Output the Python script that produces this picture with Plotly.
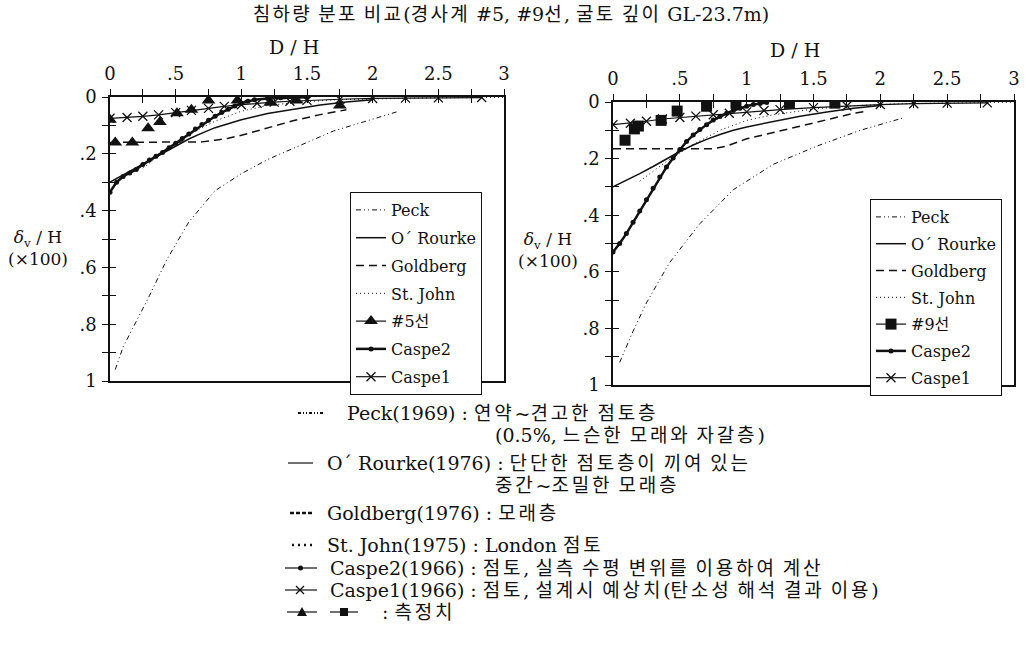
import re
import plotly.graph_objects as go

W, H = 1028, 656
SERIF = "DejaVu Serif, Noto Sans CJK KR, serif"
INK = "#111111"

# ---------------- tick labels ----------------
x_tick_vals = [0, 0.5, 1.0, 1.5, 2.0, 2.5, 3.0]
x_tick_text = ["0", ".5", "1", "1.5", "2", "2.5", "3"]
x_minor_step = 0.25
y_tick_vals = [0, 0.2, 0.4, 0.6, 0.8, 1.0]
y_tick_text = ["0", ".2", ".4", ".6", ".8", "1"]
y_minor_step = 0.1

# ---------------- left panel (#5선) ----------------
peck_L_x = [0.04, 0.1, 0.2, 0.3, 0.43, 0.6, 0.8, 1.0, 1.2, 1.45, 1.7, 1.95, 2.2]
peck_L_y = [0.96, 0.88, 0.79, 0.70, 0.575, 0.44, 0.33, 0.27, 0.22, 0.17, 0.12, 0.085, 0.05]
orourke_L_x = [0, 0.1, 0.2, 0.3, 0.4, 0.5, 0.6, 0.7, 0.8, 0.9, 1.0, 1.2, 1.4, 1.6, 1.8, 2.0]
orourke_L_y = [0.30, 0.275, 0.25, 0.225, 0.198, 0.172, 0.148, 0.127, 0.108, 0.094, 0.08, 0.058, 0.042, 0.028, 0.018, 0.01]
goldberg_L_x = [0, 0.2, 0.4, 0.6, 0.7, 0.8, 0.9, 1.0, 1.2, 1.4, 1.6, 1.8]
goldberg_L_y = [0.16, 0.16, 0.16, 0.16, 0.158, 0.152, 0.145, 0.135, 0.108, 0.083, 0.062, 0.045]
stjohn_L_x = [0.25, 0.35, 0.45, 0.55, 0.65, 0.8, 1.0, 1.2, 1.4, 1.7, 2.0, 2.4, 2.7, 3.0]
stjohn_L_y = [0.25, 0.215, 0.18, 0.15, 0.12, 0.085, 0.05, 0.03, 0.02, 0.01, 0.006, 0.003, 0.002, 0.001]
meas5_x = [0.0, 0.04, 0.17, 0.29, 0.38, 0.51, 0.62, 0.75, 0.97, 1.22, 1.42, 1.75]
meas5_y = [0.08, 0.16, 0.16, 0.11, 0.088, 0.057, 0.045, 0.012, 0.012, 0.02, 0.012, 0.03]
caspe2_L_x = [0, 0.05, 0.1, 0.15, 0.2, 0.25, 0.3, 0.35, 0.4, 0.45, 0.5, 0.55, 0.6, 0.65,
              0.7, 0.75, 0.8, 0.85, 0.9, 0.95, 1.0, 1.05, 1.1, 1.2, 1.3, 1.4, 1.5]
caspe2_L_y = [0.335, 0.30, 0.28, 0.268, 0.255, 0.238, 0.222, 0.209, 0.195, 0.179, 0.163, 0.146, 0.13, 0.113,
              0.097, 0.082, 0.068, 0.055, 0.043, 0.032, 0.022, 0.015, 0.01, 0.005, 0.003, 0.002, 0.001]
caspe1_L_x = [0, 0.13, 0.25, 0.37, 0.5, 0.62, 0.75, 0.87, 1.0, 1.12, 1.25, 1.37, 1.5, 1.75, 2.0, 2.25, 2.5, 2.83]
caspe1_L_y = [0.075, 0.072, 0.068, 0.063, 0.055, 0.047, 0.04, 0.033, 0.027, 0.022, 0.018, 0.015, 0.012, 0.008,
              0.005, 0.004, 0.003, 0.002]

# ---------------- right panel (#9선) ----------------
peck_R_x = [0.05, 0.15, 0.25, 0.42, 0.55, 0.65, 0.9, 1.2, 1.53, 1.85, 2.18]
peck_R_y = [0.92, 0.81, 0.71, 0.57, 0.49, 0.43, 0.31, 0.22, 0.155, 0.10, 0.055]
orourke_R_x = [0, 0.1, 0.2, 0.3, 0.4, 0.5, 0.6, 0.7, 0.8, 0.9, 1.0, 1.2, 1.4, 1.6, 1.8, 2.0]
orourke_R_y = [0.30, 0.277, 0.253, 0.228, 0.20, 0.175, 0.152, 0.132, 0.115, 0.10, 0.088, 0.068, 0.05, 0.035, 0.022, 0.012]
goldberg_R_x = [0, 0.2, 0.4, 0.6, 0.75, 0.85, 1.0, 1.2, 1.4, 1.6, 1.8, 1.9]
goldberg_R_y = [0.165, 0.165, 0.165, 0.165, 0.165, 0.156, 0.13, 0.108, 0.085, 0.062, 0.04, 0.032]
stjohn_R_x = [0.2, 0.3, 0.4, 0.5, 0.6, 0.8, 1.0, 1.2, 1.5, 1.8, 2.1, 2.4, 2.7, 3.0]
stjohn_R_y = [0.28, 0.245, 0.21, 0.18, 0.15, 0.10, 0.065, 0.045, 0.025, 0.013, 0.007, 0.004, 0.002, 0.001]
meas9_x = [0.09, 0.16, 0.19, 0.36, 0.48, 0.70, 0.92, 1.32, 1.66]
meas9_y = [0.135, 0.095, 0.085, 0.065, 0.032, 0.015, 0.005, 0.005, 0.004]
caspe2_R_x = [0, 0.05, 0.1, 0.15, 0.2, 0.25, 0.3, 0.35, 0.4, 0.45, 0.5, 0.55, 0.6, 0.65,
              0.7, 0.75, 0.8, 0.85, 0.9, 0.95, 1.0, 1.05, 1.1, 1.15]
caspe2_R_y = [0.53, 0.50, 0.465, 0.425, 0.385, 0.345, 0.305, 0.265, 0.23, 0.198, 0.168, 0.14, 0.117, 0.097,
              0.08, 0.064, 0.051, 0.04, 0.03, 0.022, 0.015, 0.009, 0.005, 0.002]
caspe1_R_x = [0, 0.13, 0.25, 0.37, 0.5, 0.62, 0.75, 0.87, 1.0, 1.13, 1.25, 1.5, 1.75, 2.0, 2.25, 2.5, 2.8]
caspe1_R_y = [0.08, 0.075, 0.068, 0.06, 0.055, 0.05, 0.045, 0.04, 0.035, 0.03, 0.027, 0.02, 0.014, 0.009,
              0.006, 0.004, 0.003]

# ---------------- texts ----------------
title_text = "침하량 분포 비교(경사계 #5, #9선, 굴토 깊이 GL-23.7m)"
series_names = ["Peck", "O´ Rourke", "Goldberg", "St. John", "Caspe2", "Caspe1"]
meas_names = ["#5선", "#9선"]
notes = [
    ("Peck(1969) : 연약~견고한 점토층", 345, 413),
    ("(0.5%, 느슨한 모래와 자갈층)", 493, 435),
    ("O´ Rourke(1976) : 단단한 점토층이 끼여 있는", 325, 463),
    ("중간~조밀한 모래층", 493, 485),
    ("Goldberg(1976) : 모래층", 325, 513),
    ("St. John(1975) : London 점토", 325, 545),
    ("Caspe2(1966) : 점토, 실측 수평 변위를 이용하여 계산", 328, 568),
    ("Caspe1(1966) : 점토, 설계시 예상치(탄소성 해석 결과 이용)", 328, 590),
    (": 측정치", 380, 612),
]

# ---------------- geometry (pixels) ----------------
LEFT = dict(x0=110, x1=504, y0=97, y1=381)
RIGHT = dict(x0=613, x1=1014, y0=102, y1=385)


def px(x):
    return x / W


def py(y):
    return 1 - y / H


def spaced(text, ls):
    """Widen Hangul runs a little, like the original typesetting."""
    return re.sub(r"([가-힣]+)", lambda m: f'<span style="letter-spacing:{ls}px">{m.group(1)}</span>', text)


STYLES = {
    "Peck": dict(mode="lines", line=dict(color=INK, width=1, dash="5px,3px,1px,3px,1px,3px")),
    "O´ Rourke": dict(mode="lines", line=dict(color=INK, width=1.5)),
    "Goldberg": dict(mode="lines", line=dict(color=INK, width=1.5, dash="8px,5px")),
    "St. John": dict(mode="lines", line=dict(color=INK, width=1, dash="1px,3px")),
    "Caspe2": dict(mode="lines+markers", line=dict(color=INK, width=2.5),
                   marker=dict(symbol="circle", size=5, color=INK)),
    "Caspe1": dict(mode="lines+markers", line=dict(color=INK, width=1.2),
                   marker=dict(symbol="x-thin", size=9, line=dict(width=1.3, color=INK))),
}

fig = go.Figure()

panels = [
    ("x", "y", "legend", meas_names[0], "triangle-up", 12,
     [peck_L_x, orourke_L_x, goldberg_L_x, stjohn_L_x, caspe2_L_x, caspe1_L_x],
     [peck_L_y, orourke_L_y, goldberg_L_y, stjohn_L_y, caspe2_L_y, caspe1_L_y],
     meas5_x, meas5_y),
    ("x2", "y2", "legend2", meas_names[1], "square", 11,
     [peck_R_x, orourke_R_x, goldberg_R_x, stjohn_R_x, caspe2_R_x, caspe1_R_x],
     [peck_R_y, orourke_R_y, goldberg_R_y, stjohn_R_y, caspe2_R_y, caspe1_R_y],
     meas9_x, meas9_y),
]

for xa, ya, lg, mname, msym, msize, xs, ys, mx, my in panels:
    # legend order: Peck, O'Rourke, Goldberg, St. John, measured, Caspe2, Caspe1
    for i in range(4):
        fig.add_trace(go.Scatter(x=xs[i], y=ys[i], name=series_names[i], xaxis=xa, yaxis=ya,
                                 legend=lg, legendgroup=lg + str(i), **STYLES[series_names[i]]))
    # legend key for measured points (line + marker like the original key)
    fig.add_trace(go.Scatter(x=[None], y=[None], name=mname, xaxis=xa, yaxis=ya, legend=lg,
                             legendgroup=lg + "m", mode="lines+markers",
                             line=dict(color=INK, width=1.2),
                             marker=dict(symbol=msym, size=msize, color=INK)))
    for i in range(4, 6):
        fig.add_trace(go.Scatter(x=xs[i], y=ys[i], name=series_names[i], xaxis=xa, yaxis=ya,
                                 legend=lg, legendgroup=lg + str(i), **STYLES[series_names[i]]))
    fig.add_trace(go.Scatter(x=mx, y=my, name=mname, xaxis=xa, yaxis=ya, showlegend=False,
                             mode="markers", marker=dict(symbol=msym, size=msize, color=INK)))

# empty traces so that the inner halves of the crossing ticks get their axes
fig.add_trace(go.Scatter(x=[None], y=[None], xaxis="x3", yaxis="y", showlegend=False, hoverinfo="skip"))
fig.add_trace(go.Scatter(x=[None], y=[None], xaxis="x", yaxis="y3", showlegend=False, hoverinfo="skip"))
fig.add_trace(go.Scatter(x=[None], y=[None], xaxis="x4", yaxis="y2", showlegend=False, hoverinfo="skip"))
fig.add_trace(go.Scatter(x=[None], y=[None], xaxis="x2", yaxis="y4", showlegend=False, hoverinfo="skip"))

tickfont = dict(family=SERIF, size=18, color=INK)
TICK = dict(ticklen=6, tickwidth=1.2, tickcolor=INK)


def xaxis(geo, anchor):
    return dict(domain=[px(geo["x0"]), px(geo["x1"])], anchor=anchor, range=[0, 3], side="top",
                tickmode="array", tickvals=x_tick_vals, ticktext=x_tick_text, ticks="outside", **TICK,
                minor=dict(dtick=x_minor_step, tick0=0, ticks="outside", **TICK),
                showline=True, linecolor=INK, linewidth=1.5, mirror=True, automargin=False,
                showgrid=False, zeroline=False, tickfont=tickfont, ticklabelstandoff=2)


def yaxis(geo, anchor):
    return dict(domain=[py(geo["y1"]), py(geo["y0"])], anchor=anchor, range=[1, 0],
                tickmode="array", tickvals=y_tick_vals, ticktext=y_tick_text, ticks="outside", **TICK,
                minor=dict(dtick=y_minor_step, tick0=0, ticks="outside", **TICK),
                showline=True, linecolor=INK, linewidth=1.5, mirror=True, automargin=False,
                showgrid=False, zeroline=False, tickfont=tickfont, ticklabelstandoff=2)


def x_inner(base, anchor):
    return dict(overlaying=base, anchor=anchor, side="top", range=[0, 3], tickmode="linear",
                tick0=0, dtick=x_minor_step, ticks="inside", **TICK, automargin=False,
                showticklabels=False, showline=False, showgrid=False, zeroline=False)


def y_inner(base, anchor):
    return dict(overlaying=base, anchor=anchor, side="left", range=[1, 0], tickmode="linear",
                tick0=0, dtick=y_minor_step, ticks="inside", **TICK, automargin=False,
                showticklabels=False, showline=False, showgrid=False, zeroline=False)


legend_common = dict(xanchor="left", yanchor="top", bgcolor="white", bordercolor=INK, borderwidth=1,
                     font=dict(family=SERIF, size=16, color=INK), itemwidth=30)

annotations = [
    dict(text="D / H", xref="x", yref="paper", x=1.4, y=py(47), xanchor="center", yanchor="middle",
         showarrow=False, font=dict(family=SERIF, size=19, color=INK)),
    dict(text="D / H", xref="x2", yref="paper", x=1.36, y=py(50), xanchor="center", yanchor="middle",
         showarrow=False, font=dict(family=SERIF, size=19, color=INK)),
    dict(text="<i>δ</i><sub>v</sub> / H<br>(×100)", xref="paper", yref="paper", x=px(38), y=py(248),
         xanchor="center", yanchor="middle", showarrow=False, font=dict(family=SERIF, size=17, color=INK)),
    dict(text="<i>δ</i><sub>v</sub> / H<br>(×100)", xref="paper", yref="paper", x=px(548), y=py(250),
         xanchor="center", yanchor="middle", showarrow=False, font=dict(family=SERIF, size=17, color=INK)),
]
for text, x0, y0 in notes:
    annotations.append(dict(text=spaced(text, 2.8), xref="paper", yref="paper", x=px(x0), y=py(y0),
                            xanchor="left", yanchor="middle", showarrow=False,
                            font=dict(family=SERIF, size=19, color=INK)))

# keys of the explanatory block
shapes = []


def hline(x0, x1, y, width=1.2, dash="solid"):
    shapes.append(dict(type="line", xref="paper", yref="paper", x0=px(x0), x1=px(x1), y0=py(y), y1=py(y),
                       line=dict(color=INK, width=width, dash=dash)))


hline(298, 323, 413, 2.2, "3px,2px,1px,2px,1px,2px")
hline(288, 313, 463, 1.2)
hline(290, 313, 513, 2.5, "4px,2px")
hline(292, 313, 545, 2.5, "2px,4px")
hline(285, 317, 568, 1.2)
shapes.append(dict(type="circle", xref="paper", yref="paper", x0=px(298), x1=px(303), y0=py(570.5), y1=py(565.5),
                   fillcolor=INK, line=dict(color=INK, width=0)))
hline(285, 317, 590, 1.2)
shapes.append(dict(type="line", xref="paper", yref="paper", x0=px(296), x1=px(304), y0=py(586), y1=py(594),
                   line=dict(color=INK, width=1.3)))
shapes.append(dict(type="line", xref="paper", yref="paper", x0=px(296), x1=px(304), y0=py(594), y1=py(586),
                   line=dict(color=INK, width=1.3)))
hline(287, 317, 612, 1.2)
shapes.append(dict(type="path", xref="paper", yref="paper",
                   path=f"M {px(297)} {py(616)} L {px(307)} {py(616)} L {px(302)} {py(607)} Z",
                   fillcolor=INK, line=dict(color=INK, width=0)))
hline(330, 358, 612, 1.2)
shapes.append(dict(type="rect", xref="paper", yref="paper", x0=px(340), x1=px(348), y0=py(616), y1=py(608),
                   fillcolor=INK, line=dict(color=INK, width=0)))

fig.update_layout(
    width=W, height=H, margin=dict(l=0, r=0, t=0, b=0, autoexpand=False),
    paper_bgcolor="white", plot_bgcolor="white",
    title=dict(text=spaced(title_text, 2.3), x=px(511), y=py(14), xanchor="center", yanchor="middle",
               xref="paper", yref="container", font=dict(family=SERIF, size=19, color=INK)),
    xaxis=xaxis(LEFT, "y"), yaxis=yaxis(LEFT, "x"),
    xaxis2=xaxis(RIGHT, "y2"), yaxis2=yaxis(RIGHT, "x2"),
    xaxis3=x_inner("x", "y"), yaxis3=y_inner("y", "x"),
    xaxis4=x_inner("x2", "y2"), yaxis4=y_inner("y2", "x2"),
    legend=dict(x=px(350), y=py(192), tracegroupgap=4, **legend_common),
    legend2=dict(x=px(870), y=py(199), tracegroupgap=3, **legend_common),
    annotations=annotations, shapes=shapes, showlegend=True,
)

# the page's default 8px body margin would shift the whole figure
fig.write_html("out.html", config={"displayModeBar": False},
               post_script="document.body.style.margin='0px';")
